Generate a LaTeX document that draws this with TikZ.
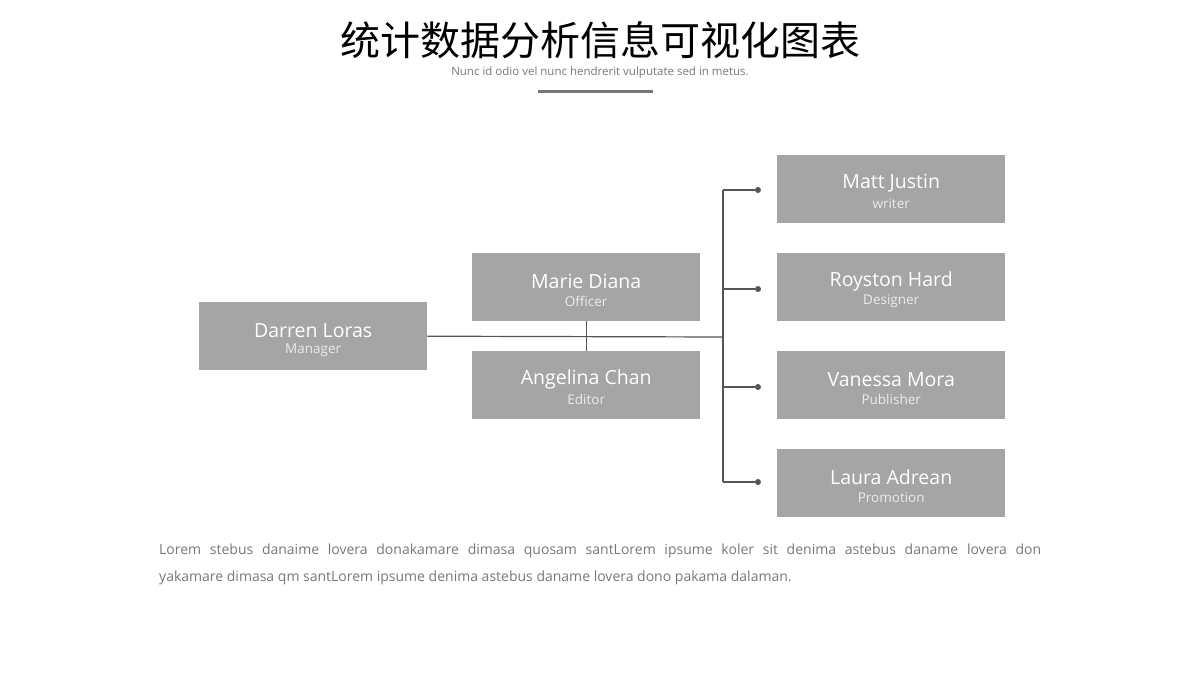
\documentclass[tikz,border=0pt]{standalone}
\usepackage{fontspec}
\setmainfont{Open Sans}
\newfontfamily\cjk{Noto Sans CJK SC}
\begin{document}
\begin{tikzpicture}[x=1pt,y=-1pt,
  box/.style={fill=boxgray,draw=none,minimum width=228pt,minimum height=68pt,anchor=north west,inner sep=0pt},
  ln/.style={draw=linegray,line width=1.2pt},
  dot/.style={circle,fill=linegray,inner sep=0pt,minimum size=6pt}]
\definecolor{boxgray}{HTML}{A5A5A5}
\definecolor{linegray}{HTML}{555555}
\definecolor{txtgray}{HTML}{777777}
\useasboundingbox (0,0) rectangle (1200,675);
\newcommand{\bx}[5]{\node[box] (#1) at (#2,#3) {};
 \node[white,font=\fontsize{19.5}{21}\selectfont] at ([yshift=6pt]#1.center) {#4};
 \node[white!92!black,font=\fontsize{13.5}{15}\selectfont] at ([yshift=-14pt]#1.center) {#5};}
\node[font=\cjk\fontsize{40}{42}\selectfont] (title) at (600,40) {统计数据分析信息可视化图表};
\node[txtgray,font=\fontsize{11.5}{13}\selectfont] (sub) at (600,73) {Nunc id odio vel nunc hendrerit vulputate sed in metus.};
\coordinate (b1) at (538,91); \coordinate (b2) at (653,91);
\draw[txtgray,line width=3pt] (b1) -- (b2);
\bx{d}{199}{302}{Darren Loras}{Manager}
\bx{m}{472}{253}{Marie Diana}{Officer}
\bx{a}{472}{351}{Angelina Chan}{Editor}
\bx{r1}{777}{155}{Matt Justin}{writer}
\bx{r2}{777}{253}{Royston Hard}{Designer}
\bx{r3}{777}{351}{Vanessa Mora}{Publisher}
\bx{r4}{777}{449}{Laura Adrean}{Promotion}
\coordinate (j) at (723,337);
\draw[ln] (d.east) -- (j);
\draw[ln] (m.south) -- (a.north);
\coordinate (t1) at (723,190); \coordinate (t4) at (723,482);
\draw[ln] (t1) -- (t4);
\foreach \y/\n in {190/1,289/2,387/3,482/4}{
  \node[dot] (p\n) at (758,\y) {};
  \draw[ln] (723,\y) -- (p\n);
}
\node[txtgray,font=\fontsize{14}{27}\selectfont,text width=882pt,align=justify,anchor=north west,inner sep=0pt] (para) at (159,544)
{Lorem stebus danaime lovera donakamare dimasa quosam santLorem ipsume koler sit denima astebus daname lovera don\linebreak yakamare dimasa qm santLorem ipsume denima astebus daname lovera dono pakama dalaman.};
\end{tikzpicture}
\end{document}
